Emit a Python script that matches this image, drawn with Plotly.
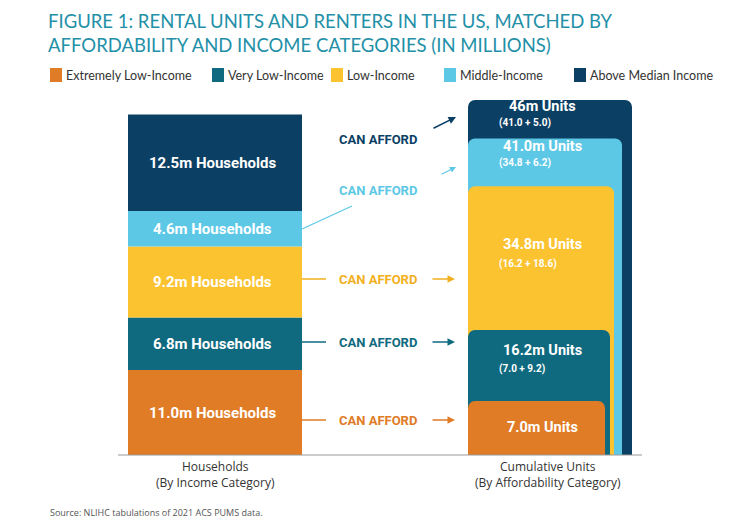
import plotly.graph_objects as go

categories = ["Extremely Low-Income", "Very Low-Income", "Low-Income", "Middle-Income", "Above Median Income"]
colors = ["#E07B26", "#0F6A80", "#FCC331", "#5CC8E6", "#0C3F64"]
households = [11.0, 6.8, 9.2, 4.6, 12.5]
units_add = [7.0, 9.2, 18.6, 6.2, 5.0]
cum_units = [7.0, 16.2, 34.8, 41.0, 46.0]
hh_labels = ["11.0m Households", "6.8m Households", "9.2m Households", "4.6m Households", "12.5m Households"]
unit_labels = ["7.0m Units", "16.2m Units", "34.8m Units", "41.0m Units", "46m Units"]
unit_sub = ["", "(7.0 + 9.2)", "(16.2 + 18.6)", "(34.8 + 6.2)", "(41.0 + 5.0)"]

W, H = 743, 522
PPU = 7.72  # pixels per million
BASE = 455
yr = [-(H - BASE) / PPU, BASE / PPU]
def yd(p):  # pixel y -> data y
    return (BASE - p) / PPU

fig = go.Figure()
right_w = [137, 142, 146, 154, 164]
for i in reversed(range(5)):
    fig.add_bar(x=[468], y=[cum_units[i]], width=[right_w[i]], offset=0,
                marker=dict(color=colors[i], cornerradius=7, line=dict(width=0)),
                showlegend=False, hoverinfo="skip")
base = 0
for i in range(5):
    fig.add_bar(x=[215], y=[households[i]], base=[base], width=[174], name=categories[i],
                marker=dict(color=colors[i], line=dict(width=0)), hoverinfo="skip", showlegend=False)
    fig.add_annotation(x=212, y=base + households[i] / 2, text="<b>%s</b>" % hh_labels[i],
                       showarrow=False, font=dict(color="white", size=15, family="Roboto"))
    base += households[i]

lab_y = [3.6, 13.5, 27.3, 39.9, 45.1]
sub_y = [None, 11.1, 24.7, 37.8, 43.0]
for i in range(5):
    fig.add_annotation(x=542, y=lab_y[i], text="<b>%s</b>" % unit_labels[i], showarrow=False,
                       font=dict(color="white", size=14.5, family="Roboto"))
    if unit_sub[i]:
        fig.add_annotation(x=497, y=sub_y[i], xanchor="left", text="<b>%s</b>" % unit_sub[i], showarrow=False,
                           font=dict(color="white", size=10, family="Roboto"))

shapes = []
leg_x = [50, 212, 331, 444, 574]
for i in range(5):
    shapes.append(dict(type="rect", xref="x", yref="y", x0=leg_x[i], x1=leg_x[i] + 12,
                       y0=yd(82), y1=yd(68), fillcolor=colors[i], line=dict(width=0)))
    fig.add_annotation(x=leg_x[i] + 14, y=yd(75), xanchor="left", text=categories[i],
                       showarrow=False, font=dict(color="#333", size=12.5, family="Lato"))

for i, yy in zip(range(3), [420, 342, 279]):
    c = colors[i] if i != 2 else "#F2B01E"
    shapes.append(dict(type="line", xref="x", yref="y", x0=302, x1=326, y0=yd(yy), y1=yd(yy),
                       line=dict(color=c, width=1.5)))
    fig.add_annotation(x=378, y=yd(yy), text="<b>CAN AFFORD</b>", showarrow=False,
                       font=dict(color=c, size=13, family="Roboto"))
    fig.add_annotation(x=455, y=yd(yy), ax=-24, ay=0,
                       text="", showarrow=True, arrowhead=2, arrowsize=1, arrowwidth=1.5, arrowcolor=c)
shapes.append(dict(type="line", xref="x", yref="y", x0=302, x1=352, y0=yd(229), y1=yd(206),
                   line=dict(color=colors[3], width=1.2)))
fig.add_annotation(x=378, y=yd(190), text="<b>CAN AFFORD</b>", showarrow=False,
                   font=dict(color=colors[3], size=13, family="Roboto"))
fig.add_annotation(x=456, y=yd(167), ax=-16, ay=8,
                   text="", showarrow=True, arrowhead=2, arrowsize=1, arrowwidth=1.2, arrowcolor=colors[3])
fig.add_annotation(x=378, y=yd(139), text="<b>CAN AFFORD</b>", showarrow=False,
                   font=dict(color=colors[4], size=13, family="Roboto"))
fig.add_annotation(x=456, y=yd(117), ax=-24, ay=12,
                   text="", showarrow=True, arrowhead=2, arrowsize=1, arrowwidth=1.5, arrowcolor=colors[4])
shapes.append(dict(type="line", xref="x", yref="y", x0=118, x1=642, y0=0, y1=0,
                   line=dict(color="#999999", width=1)))

fig.add_annotation(x=215, y=yd(474), text="Households<br>(By Income Category)", showarrow=False,
                   font=dict(color="#333", size=12, family="Open Sans"))
fig.add_annotation(x=548, y=yd(474), text="Cumulative Units<br>(By Affordability Category)",
                   showarrow=False, font=dict(color="#333", size=12, family="Open Sans"))
fig.add_annotation(x=48, y=yd(512), xanchor="left",
                   text="Source: NLIHC tabulations of 2021 ACS PUMS data.", showarrow=False,
                   font=dict(color="#555", size=9, family="Open Sans"))
fig.add_annotation(x=46, y=yd(8), xanchor="left", yanchor="top", align="left",
                   text="FIGURE 1: RENTAL UNITS AND RENTERS IN THE US, MATCHED BY<br>AFFORDABILITY AND INCOME CATEGORIES (IN MILLIONS)",
                   showarrow=False, font=dict(color="#2390A8", size=18.5, family="Lato", weight=400))

fig.update_layout(width=W, height=H, margin=dict(l=0, r=0, t=0, b=0, autoexpand=False), barmode="overlay",
                  plot_bgcolor="white", paper_bgcolor="white", shapes=shapes, showlegend=False,
                  xaxis=dict(range=[0, W], visible=False, fixedrange=True),
                  yaxis=dict(range=yr, visible=False, fixedrange=True))
fig.write_html("out.html", config={"displayModeBar": False},
               post_script="document.body.style.margin='0';")
